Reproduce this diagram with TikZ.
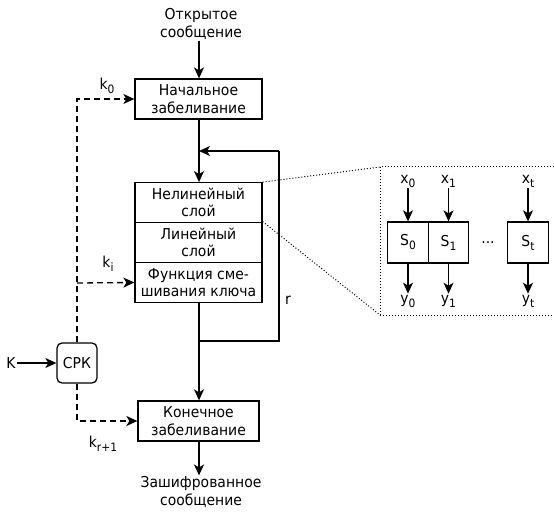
\documentclass[tikz,border=0pt]{standalone}
\usepackage{fontspec}
\setmainfont[FakeStretch=0.93]{DejaVu Sans}
\usetikzlibrary{arrows.meta}
\newcommand{\lowsub}[1]{\raisebox{-4pt}{\fontsize{11.5}{12}\selectfont #1}}
\begin{document}
\begin{tikzpicture}[x=1pt,y=-1pt,
  font=\fontsize{15}{17.5}\selectfont,
  every node/.style={inner sep=1pt},
  blk/.style={draw,line width=1.3pt,minimum width=127pt,minimum height=40pt,align=center,inner sep=0pt},
  sbox/.style={draw,line width=1.3pt,minimum width=40.5pt,minimum height=41pt,inner sep=0pt},
  arr/.style={line width=1.3pt,-{Stealth[length=11pt,width=10pt,inset=3pt]}},
  ln/.style={line width=1.3pt},
  dsh/.style={line width=1.3pt,dash pattern=on 6pt off 4pt,-{Stealth[length=11pt,width=10pt,inset=3pt]}},
  dot/.style={line width=1pt,dash pattern=on 1pt off 2pt}]
\useasboundingbox (0,0) rectangle (554,513);
% main column
\node[align=center] (src) at (201,24) {Открытое\\сообщение};
\node[blk] (init) at (198.5,99) {Начальное\\забеливание};
\node[blk,minimum height=39.5pt] (nl) at (198.5,202.5) {Нелинейный\\слой};
\node[blk,minimum height=40.5pt] (lin) at (198.5,242.5) {Линейный\\слой};
\node[blk,minimum height=40pt] (mix) at (198.5,282.5) {Функция сме-\\шивания ключа};
\node[blk,minimum width=121pt] (fin) at (198.5,421) {Конечное\\забеливание};
\node[align=center] (dst) at (201,492) {Зашифрованное\\сообщение};
\node[draw,line width=1.3pt,rounded corners=5pt,minimum width=40pt,minimum height=40pt,inner sep=0pt] (crk) at (77,363) {СРК};
\node (K) at (11,363) {K};
% connectors
\coordinate (fb) at (199,151);
\coordinate (j) at (199,341);
\coordinate (c1) at (279,341);
\coordinate (c2) at (279,151);
\draw[arr] (src.south -| fb) -- (init.north -| fb);
\draw[arr] (init.south -| fb) -- (nl.north -| fb);
\draw[ln] (mix.south -| j) -- (j) -- (c1) -- (c2);
\draw[arr] (c2) -- (fb);
\draw[arr] (j) -- (fin.north -| j);
\draw[arr] (fin.south -| j) -- (dst.north -| j);
\draw[arr] (K) -- (crk);
\draw[dsh] (crk.north) |- (init.west);
\coordinate (kb) at (77,283);
\draw[dsh] (kb) -- (mix.west);
\draw[dsh] (crk.south) |- (fin.west);
% labels
\node (k0) at (107,86) {k\lowsub{0}};
\node (ki) at (108,264) {k\lowsub{i}};
\node (kr) at (103,444) {k\lowsub{r+1}};
\node (r) at (288,300) {r};
% zoom
\coordinate (z1) at (380,167);
\coordinate (z2) at (380,315);
\draw[dot] (nl.north east) -- (z1);
\draw[dot] (lin.north east) -- (z2);
\draw[dot] (z2) -- (z1) -- (570,167);
\draw[dot] (z2) -- (570,315);
\node[sbox] (s0) at (408,242.5) {S\lowsub{0}};
\node[sbox] (s1) at (448.5,242.5) {S\lowsub{1}};
\node[sbox] (st) at (528,242.5) {S\lowsub{t}};
\node (dd) at (488,243) {...};
\node (x0) at (408,181) {x\lowsub{0}};
\node (x1) at (448.5,181) {x\lowsub{1}};
\node (xt) at (528,181) {x\lowsub{t}};
\node (y0) at (408,301) {y\lowsub{0}};
\node (y1) at (448.5,301) {y\lowsub{1}};
\node (yt) at (528,301) {y\lowsub{t}};
\draw[arr] (x0.south -| s0) -- (s0);
\draw[arr] (x1.south -| s1) -- (s1);
\draw[arr] (xt.south -| st) -- (st);
\draw[arr] (s0) -- (y0.north -| s0);
\draw[arr] (s1) -- (y1.north -| s1);
\draw[arr] (st) -- (yt.north -| st);
\end{tikzpicture}
\end{document}
